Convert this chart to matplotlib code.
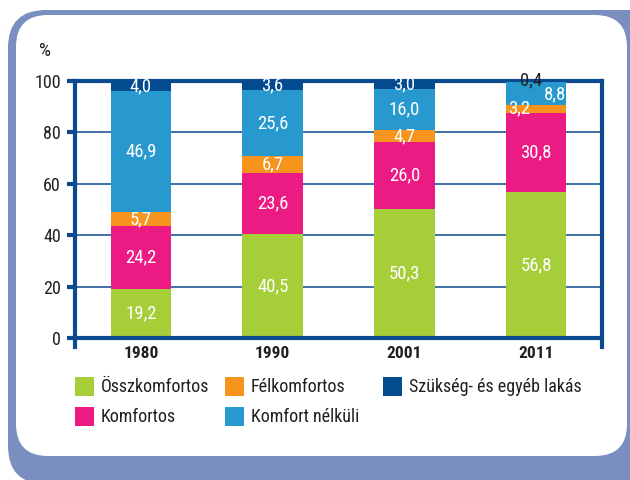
import matplotlib
matplotlib.use('Agg')
import matplotlib.pyplot as plt
from matplotlib.patches import FancyBboxPatch, Rectangle
import numpy as np

plt.rcParams['font.family'] = ['Roboto Condensed', 'DejaVu Sans']
plt.rcParams['font.stretch'] = 'condensed'

years = ['1980', '1990', '2001', '2011']
categories = ['Összkomfortos', 'Komfortos', 'Félkomfortos', 'Komfort nélküli',
              'Szükség- és egyéb lakás']
osszkomfortos = [19.2, 40.5, 50.3, 56.8]
komfortos = [24.2, 23.6, 26.0, 30.8]
felkomfortos = [5.7, 6.7, 4.7, 3.2]
komfort_nelkuli = [46.9, 25.6, 16.0, 8.8]
szukseg = [4.0, 3.6, 3.0, 0.4]
series = [osszkomfortos, komfortos, felkomfortos, komfort_nelkuli, szukseg]

colors = ['#a6ce39', '#ec1b84', '#f7941d', '#2899cf', '#034b8f']
axis_col = '#0b4a8e'
frame_col = '#7a8ec0'
text_col = '#231f20'

# label tweaks for the thin 2011 segments: (dx, dy, color)
label_fix = {
    (3, 2): (-0.13, 0.3, 'white'),
    (3, 3): (0.14, -0.4, 'white'),
    (3, 4): (-0.04, 0.3, text_col),
}

fig = plt.figure(figsize=(6.3, 4.8), dpi=100)

# background frame, drawn in pixel coordinates
bg = fig.add_axes([0, 0, 1, 1])
bg.set_xlim(0, 630)
bg.set_ylim(480, 0)
bg.axis('off')
bg.add_patch(FancyBboxPatch((8, 10), 660, 474, boxstyle='round,pad=0,rounding_size=38',
                            fc=frame_col, ec='none'))
bg.add_patch(FancyBboxPatch((16, 15), 611, 441, boxstyle='round,pad=0,rounding_size=32',
                            fc='white', ec='none'))

# legend (column-wise, like the original)
leg_pos = [(75, 377), (75, 407), (225, 377), (225, 407), (383, 377)]
for (lx, ly), lab, c in zip(leg_pos, categories, colors):
    bg.add_patch(Rectangle((lx, ly), 19, 19, fc=c, ec='none'))
    bg.text(lx + 26, ly + 10, lab, fontsize=13, color=text_col, va='center', ha='left')

bg.text(45, 51, '%', fontsize=13.5, color=text_col, ha='center', va='center')

# main chart
ax = fig.add_axes([75 / 630, 133 / 480, 527 / 630, 266 / 480])
ax.set_facecolor('none')
x = np.arange(len(years))
bottom = np.zeros(len(years))
for i, (vals, c) in enumerate(zip(series, colors)):
    vals = np.array(vals)
    ax.bar(x, vals, bottom=bottom, width=0.46, color=c, zorder=3)
    for j in range(len(years)):
        dx, dy, tc = label_fix.get((j, i), (0, 0, 'white'))
        ax.text(x[j] + dx, bottom[j] + vals[j] / 2 + dy, f'{vals[j]:.1f}'.replace('.', ','),
                ha='center', va='center', fontsize=13.5, color=tc, zorder=5)
    bottom += vals

ax.set_xlim(-0.5, 3.5)
ax.set_ylim(-3.5, 100)
ax.set_yticks([0, 20, 40, 60, 80, 100])
ax.set_xticks([])
ax.grid(axis='y', color=axis_col, lw=1.1, zorder=1)
ax.axhline(0, color=axis_col, lw=3, zorder=4)
for s in ['left', 'right', 'top']:
    ax.spines[s].set_color(axis_col)
    ax.spines[s].set_linewidth(3)
ax.spines['bottom'].set_visible(False)
ax.tick_params(axis='y', length=6, width=3, color=axis_col, labelsize=13,
               labelcolor=text_col, pad=4)
for j, yr in enumerate(years):
    ax.text(x[j], -6, yr, ha='center', va='center', fontsize=12.5, fontweight='bold',
            color=text_col, clip_on=False)

fig.savefig('out.png', dpi=100)
